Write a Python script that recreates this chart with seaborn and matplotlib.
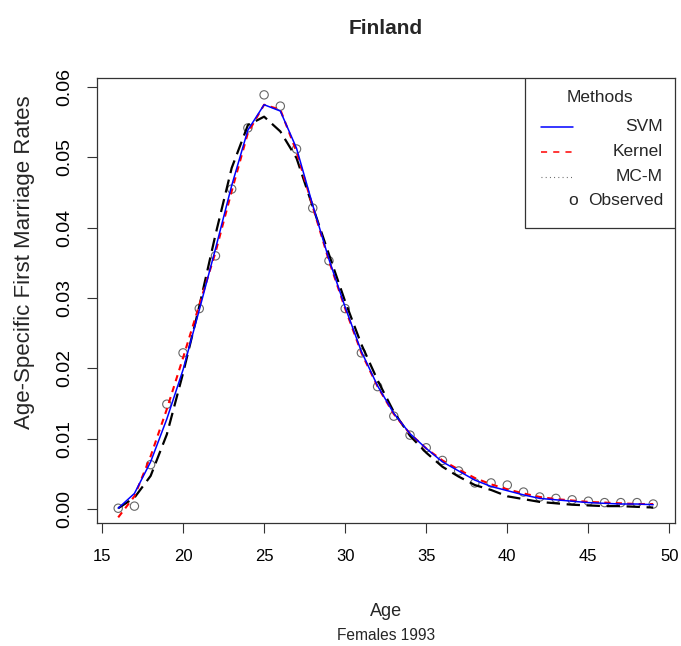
import numpy as np
import pandas as pd
import matplotlib
matplotlib.use("Agg")
import matplotlib.pyplot as plt
import seaborn as sns
from matplotlib.patches import Rectangle

ages = list(range(16, 50))
observed = [0.0001, 0.0004, 0.0063, 0.0149, 0.0222, 0.0285, 0.0360, 0.0455, 0.0542, 0.0589,
            0.0573, 0.0512, 0.0428, 0.0353, 0.0285, 0.0222, 0.0174, 0.0132, 0.0105, 0.0087,
            0.0069, 0.0054, 0.0037, 0.0037, 0.0034, 0.0024, 0.0017, 0.0015, 0.0013, 0.0011,
            0.0009, 0.0009, 0.0009, 0.0007]
svm = [0.0001, 0.0022, 0.0067, 0.0128, 0.0198, 0.0283, 0.0370, 0.0460, 0.0539, 0.0575,
       0.0566, 0.0513, 0.0432, 0.0355, 0.0287, 0.0224, 0.0175, 0.0136, 0.0107, 0.0086,
       0.0067, 0.0054, 0.0041, 0.0032, 0.0026, 0.0020, 0.0015, 0.0013, 0.0011, 0.0009,
       0.0008, 0.0007, 0.0007, 0.0006]
kernel = [-0.0012, 0.0018, 0.0075, 0.0142, 0.0215, 0.0290, 0.0365, 0.0452, 0.0535, 0.0575,
          0.0568, 0.0508, 0.0430, 0.0353, 0.0285, 0.0222, 0.0174, 0.0135, 0.0107, 0.0086,
          0.0069, 0.0056, 0.0044, 0.0035, 0.0028, 0.0022, 0.0017, 0.0014, 0.0012, 0.0010,
          0.0009, 0.0008, 0.0007, 0.0007]
mcm = [0.0001, 0.0016, 0.0047, 0.0106, 0.0193, 0.0288, 0.0390, 0.0485, 0.0546, 0.0558,
       0.0537, 0.0499, 0.0430, 0.0362, 0.0295, 0.0234, 0.0183, 0.0138, 0.0104, 0.0080,
       0.0060, 0.0046, 0.0034, 0.0027, 0.0018, 0.0014, 0.0010, 0.0008, 0.0006, 0.0005,
       0.0004, 0.0004, 0.0003, 0.0002]

title = "Finland"
xlabel = "Age"
sublabel = "Females 1993"
ylabel = "Age-Specific First Marriage Rates"
legend_title = "Methods"
legend_labels = ["SVM", "Kernel", "MC-M", "Observed"]
xticks = [15, 20, 25, 30, 35, 40, 45, 50]
yticks = [0.00, 0.01, 0.02, 0.03, 0.04, 0.05, 0.06]

sns.set_theme(style="ticks")
plt.rcParams['font.family'] = ['Liberation Sans', 'DejaVu Sans']

df = pd.DataFrame({"age": ages, "obs": observed, "svm": svm, "kernel": kernel, "mcm": mcm})

fig = plt.figure(figsize=(6.81, 6.46), dpi=100)
ax = fig.add_axes([96.8 / 681, 1 - 523 / 646, 577.8 / 681, 445 / 646])

sns.scatterplot(data=df, x="age", y="obs", ax=ax, marker="o", s=36, facecolor="none",
                edgecolor="#666666", linewidth=0.8, zorder=2)
sns.lineplot(data=df, x="age", y="mcm", ax=ax, color="black", lw=1.6, zorder=3)
ax.lines[-1].set_dashes([6, 3])
sns.lineplot(data=df, x="age", y="kernel", ax=ax, color="red", lw=1.5, zorder=4)
ax.lines[-1].set_dashes([3, 2.5])
sns.lineplot(data=df, x="age", y="svm", ax=ax, color="blue", lw=1.1, zorder=5)

ax.set_xlim(14.68, 50.32)
ax.set_ylim(-0.0020, 0.0613)
ax.set_xticks(xticks)
ax.set_yticks(yticks)
ax.set_yticklabels([f"{v:.2f}" for v in yticks])
ax.set_xticklabels([str(v) for v in xticks])
ax.tick_params(axis="both", direction="out", length=7, width=0.8, color="#333333",
               labelcolor="black")
ax.tick_params(axis="x", pad=12, labelsize=12)
ax.tick_params(axis="y", pad=10, labelsize=14)
for lab in ax.get_yticklabels():
    lab.set_rotation(90)
    lab.set_va("center")
for sp in ax.spines.values():
    sp.set_visible(True)
    sp.set_color("#333333")
    sp.set_linewidth(0.9)

ax.set_xlabel(xlabel, fontsize=13)
ax.xaxis.set_label_coords(0.5, (523 - 612) / 445)
ax.xaxis.label.set_va("center")
ax.set_ylabel(ylabel, fontsize=16)
ax.yaxis.set_label_coords((25 - 96.8) / 577.8, (523 - 262) / 445)
ax.yaxis.label.set_va("center")
fig.text((96.8 + 577.8 / 2) / 681, 1 - 635 / 646, sublabel, ha="center", va="center", fontsize=11.2)
fig.text((96.8 + 577.8 / 2) / 681, 1 - 28 / 646, title, ha="center", va="center",
         fontsize=15, fontweight="bold")

# legend box
T = ax.transAxes
ax.add_patch(Rectangle((0.741, 0.663), 0.259, 0.337, transform=T, facecolor="white",
                       edgecolor="#333333", lw=0.9, zorder=10))
ax.text(0.871, 0.957, legend_title, transform=T, ha="center", va="center", fontsize=12.5, zorder=11)
ys = [0.890, 0.834, 0.778, 0.724]
ax.plot([0.769, 0.824], [ys[0]] * 2, transform=T, color="blue", lw=1.1, zorder=11)
l2, = ax.plot([0.769, 0.824], [ys[1]] * 2, transform=T, color="red", lw=1.1, zorder=11)
l2.set_dashes([4, 4])
l3, = ax.plot([0.769, 0.824], [ys[2]] * 2, transform=T, color="#555555", lw=0.8, zorder=11)
l3.set_dashes([0.8, 3])
ax.text(0.824, ys[3], "o", transform=T, ha="center", va="center", fontsize=12.5, zorder=11)
for yv, lab in zip(ys, legend_labels):
    ax.text(0.980, yv, lab, transform=T, ha="right", va="center", fontsize=12.5, zorder=11)

fig.savefig("out.png", dpi=100)
